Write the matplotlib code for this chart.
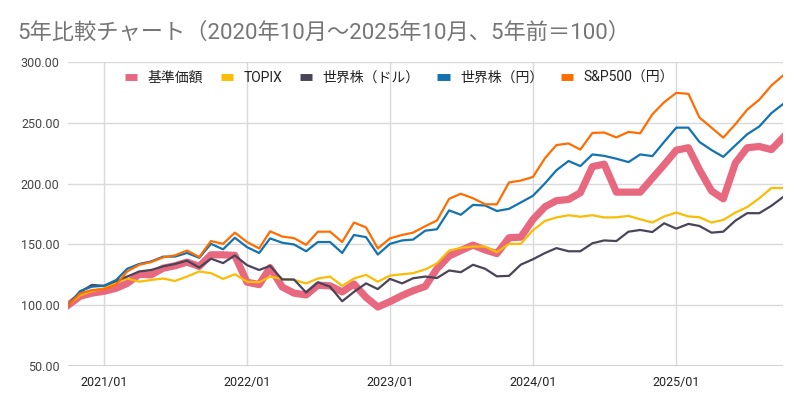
import pandas as pd
import matplotlib
matplotlib.use('Agg')
import matplotlib.pyplot as plt
import matplotlib.dates as mdates
from matplotlib.lines import Line2D

plt.rcParams['font.family'] = ['Roboto', 'Noto Sans CJK JP', 'DejaVu Sans']

# monthly points, 2020/10 .. 2025/10
months = pd.date_range('2020-10-01', '2025-10-01', freq='MS')

kijun = [100, 107.5, 110, 111.5, 114, 118, 125.5, 125, 130.5, 132.5, 135.5, 132,
         141.5, 141.5, 141, 119, 117, 131, 115, 110, 108.5, 116.5, 116, 111,
         117.5, 106.5, 98.6, 103, 108, 112, 115.5, 130, 140.5, 145, 149.5, 145.5,
         142.5, 155.5, 156, 170.5, 181, 186, 187, 192.5, 214, 216, 193, 193,
         193, 204.5, 215.5, 227.5, 229.5, 211.5, 194, 187.5, 217, 229.5, 230.5, 228,
         238]
topix = [100, 108.3, 111.7, 113.9, 118.9, 122, 119.4, 120.8, 122, 120, 123.6, 127.8,
         126.4, 121.7, 125.5, 119.4, 118.9, 123.6, 121.7, 120.8, 118, 122, 123.6, 116,
         122, 125, 119.4, 124.4, 125.5, 126.4, 129.5, 134.5, 145, 147.2, 148.3, 148.3,
         143.6, 150.5, 150.5, 161.7, 169.4, 172.2, 174, 172.8, 174, 172.2, 172.3, 173.5,
         170.7, 168, 173, 176.2, 173, 172.4, 168, 170.2, 176.2, 180.7, 188, 196.4,
         196.4]
world_usd = [100, 111, 116.7, 116, 120, 123.6, 127.8, 129, 132, 133.9, 136.7, 131,
             138.3, 134.7, 141, 133, 129, 132.4, 121.2, 121.2, 110.5, 118.9, 115.3, 103.3,
             111, 118, 113.3, 121.7, 118, 122.2, 123.6, 122.4, 128.6, 127.2, 133.3, 130,
             123.8, 124.2, 133.4, 137.8, 143, 147, 144.4, 144.4, 151, 153.3, 152.8, 160.5,
             161.9, 160.2, 167.4, 163, 166.9, 165.2, 159.7, 160.5, 169.6, 175.7, 175.7, 181.8,
             189]
world_jpy = [100, 111.7, 115.3, 116, 120.8, 130, 134, 136, 140, 140, 143, 139,
             150.5, 146, 155.5, 147.8, 143, 155, 151.4, 150, 144.4, 152, 152, 143,
             157.8, 156, 141.7, 150.5, 153.3, 154, 161.3, 162.5, 178, 174.4, 182.5, 182,
             177.5, 179.3, 184.5, 190, 200.3, 211, 218.6, 214.4, 224, 222.8, 220.5, 217.7,
             224, 222.6, 234.3, 246, 246, 234.3, 227.6, 222, 231.5, 240.6, 247, 258,
             265.5]
sp500_jpy = [100, 109.7, 112.5, 113.3, 117, 127.8, 133.3, 135.5, 139.4, 141, 145, 139.7,
             152.8, 150.5, 159.7, 152, 146.7, 160.8, 156.5, 155.2, 149.7, 160.5, 160.5, 152,
             168, 164, 146.7, 155, 157.8, 159.7, 165, 169.7, 187.5, 191.7, 188, 183,
             183, 201, 202.5, 205.5, 221, 231.7, 233, 228, 241.7, 242, 238, 242.5,
             241.4, 257, 266.9, 274.6, 273.8, 254.4, 246, 237.8, 248.9, 260.8, 269, 280.7,
             289]

labels = ['基準価額', 'TOPIX', '世界株（ドル）', '世界株（円）', 'S&P500（円）']
colors = ['#e8687f', '#fbbc04', '#4a4459', '#1373b1', '#ff6d01']
series = [kijun, topix, world_usd, world_jpy, sp500_jpy]
widths = [5.2, 1.6, 1.6, 1.6, 1.6]

fig = plt.figure(figsize=(8, 4.05), dpi=100)
ax = fig.add_axes([0.085, 0.096, 0.894, 0.751])

# series drawn in order, first one at the bottom
for i, vals in enumerate(series):
    ax.plot(months, vals, color=colors[i], lw=widths[i], solid_joinstyle='round', zorder=3 + i)

ax.set_xlim(months[0], months[-1])
ax.set_ylim(50, 300)
ax.set_yticks([50, 100, 150, 200, 250, 300])
ax.set_yticklabels(['%.2f' % v for v in [50, 100, 150, 200, 250, 300]])
ax.xaxis.set_major_locator(mdates.YearLocator(month=1))
ax.xaxis.set_major_formatter(mdates.DateFormatter('%Y/%m'))

ax.grid(True, color='#d9d9d9', lw=1)
ax.set_axisbelow(True)
for s in ax.spines.values():
    s.set_visible(False)
ax.axhline(50, color='#cccccc', lw=1.2, zorder=1)
ax.tick_params(length=0, labelsize=9, colors='#222222')
ax.tick_params(axis='y', pad=6, labelcolor='#444444')
ax.tick_params(axis='x', pad=7)

handles = [Line2D([], [], color=c, lw=5, solid_capstyle='butt') for c in colors]
ax.legend(handles, labels, loc='upper left', bbox_to_anchor=(0.062, 1.012), ncol=5,
          frameon=False, fontsize=10, handlelength=0.9, handletextpad=0.75,
          columnspacing=1.25, labelcolor='#222222')

fig.text(0.022, 0.918, '5年比較チャート（2020年10月～2025年10月、5年前＝100）',
         fontsize=16, color='#757575', va='center', ha='left')

fig.savefig('out.png', dpi=100, facecolor='white')
